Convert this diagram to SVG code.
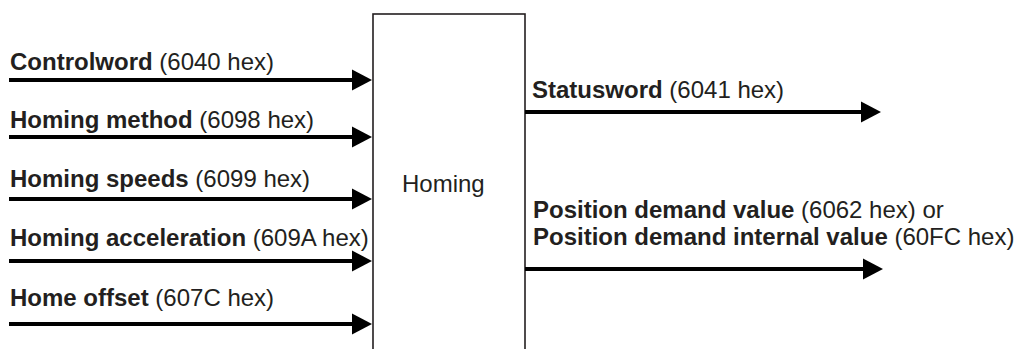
<svg xmlns="http://www.w3.org/2000/svg" width="1018" height="349" viewBox="0 0 1018 349">
  <style>
    text { font-family: "Liberation Sans", Arial, sans-serif; font-size: 24px; fill: #231f20; }
    .b { font-weight: bold; }
    .arrow { stroke: #000; stroke-width: 4; fill: none; marker-end: url(#head); }
    .box { fill: #fff; stroke: #231f20; stroke-width: 1.6; }
  </style>
  <defs>
    <marker id="head" markerUnits="userSpaceOnUse" markerWidth="21" markerHeight="22" refX="0" refY="10.5" orient="auto" overflow="visible">
      <path d="M0,0 L20,10.5 L0,21 Z" fill="#000"/>
    </marker>
  </defs>
  <rect width="1018" height="349" fill="#fff"/>
  <g id="homing">
    <rect class="box" x="373" y="14" width="152" height="345"/>
    <text x="402" y="192" font-size="23">Homing</text>
  </g>
  <g id="connectors">
    <line class="arrow" x1="9" y1="80" x2="352" y2="80"/>
    <line class="arrow" x1="9" y1="137" x2="352" y2="137"/>
    <line class="arrow" x1="9" y1="199" x2="352" y2="199"/>
    <line class="arrow" x1="9" y1="261" x2="352" y2="261"/>
    <line class="arrow" x1="9" y1="324" x2="352" y2="324"/>
    <line class="arrow" x1="525" y1="112" x2="861" y2="112"/>
    <line class="arrow" x1="525" y1="269" x2="863" y2="269"/>
  </g>
  <g id="labels">
    <text x="10" y="70"><tspan class="b">Controlword</tspan> (6040 hex)</text>
    <text x="10" y="128"><tspan class="b">Homing method</tspan> (6098 hex)</text>
    <text x="10" y="187"><tspan class="b">Homing speeds</tspan> (6099 hex)</text>
    <text x="10" y="246"><tspan class="b">Homing acceleration</tspan> (609A hex)</text>
    <text x="10" y="306"><tspan class="b">Home offset</tspan> (607C hex)</text>
    <text x="532" y="98"><tspan class="b">Statusword</tspan> (6041 hex)</text>
    <text x="533" y="218"><tspan class="b">Position demand value</tspan> (6062 hex) or</text>
    <text x="533" y="245"><tspan class="b">Position demand internal value</tspan> (60FC hex)</text>
  </g>
</svg>
